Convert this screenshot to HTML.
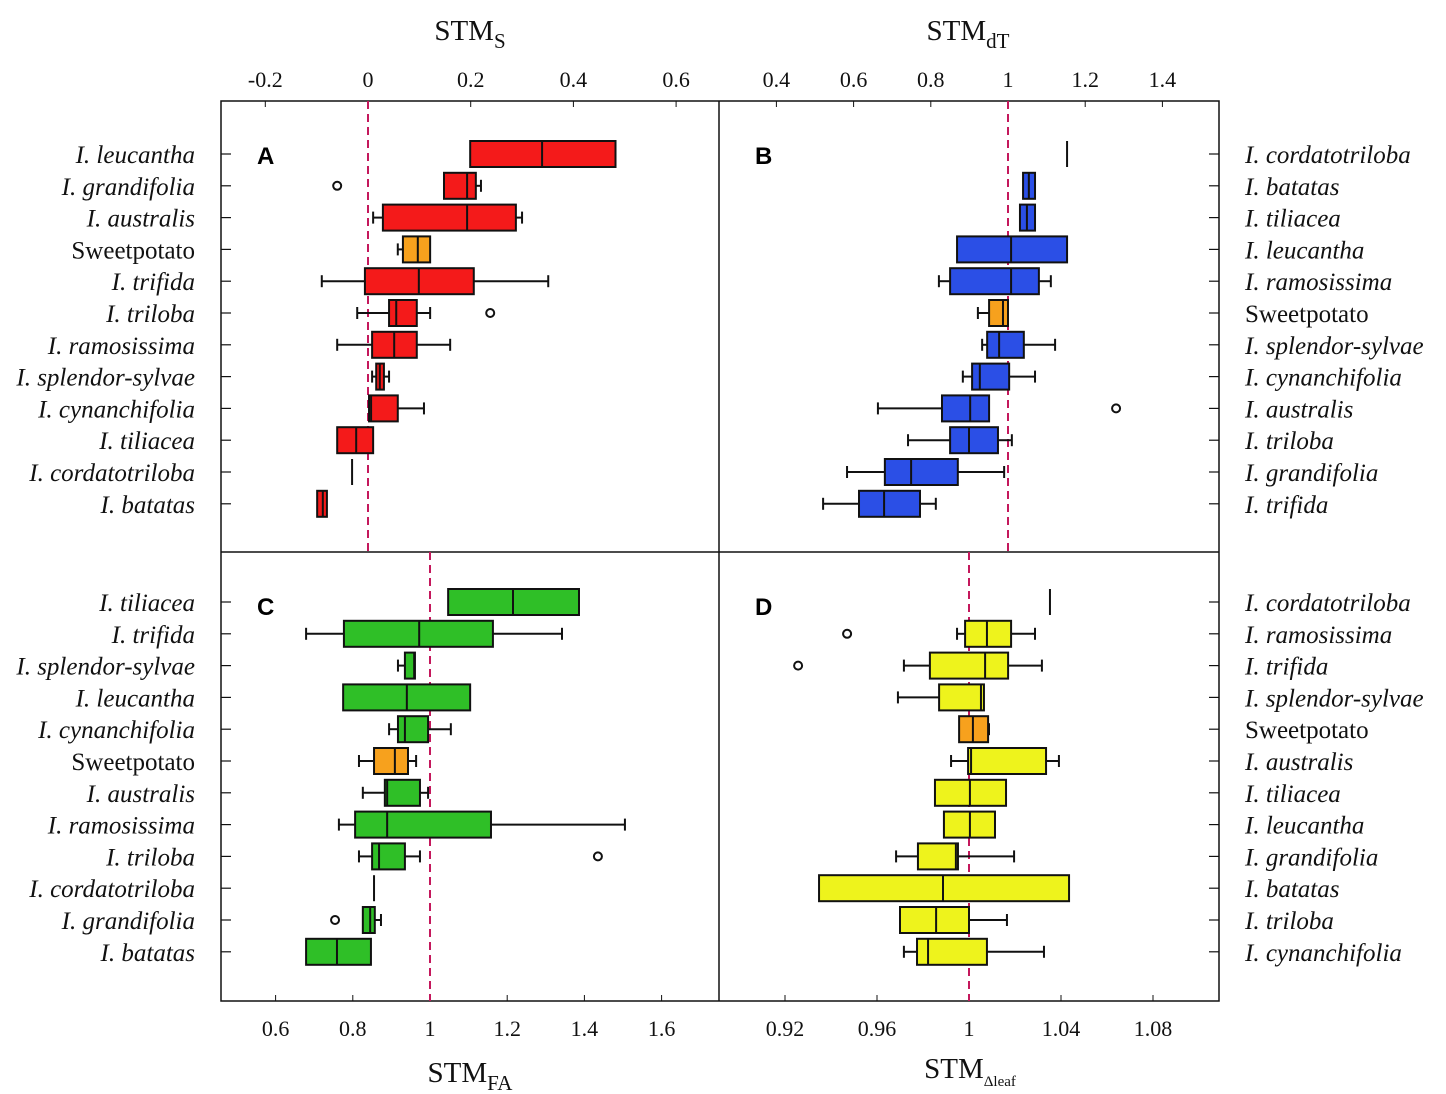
<!DOCTYPE html>
<html><head><meta charset="utf-8"><style>
html,body{margin:0;padding:0;background:#fff;}
svg{display:block;}
.t{font-family:"Liberation Serif",serif;fill:#111;}
</style></head><body>
<svg id="c" width="1446" height="1094" viewBox="0 0 1446 1094" xmlns="http://www.w3.org/2000/svg"></svg>
<script>
// Panel A: STM_S
const catsA = ["I. leucantha","I. grandifolia","I. australis","Sweetpotato","I. trifida","I. triloba","I. ramosissima","I. splendor-sylvae","I. cynanchifolia","I. tiliacea","I. cordatotriloba","I. batatas"];
const q1A = [0.199,0.148,0.029,0.068,-0.006,0.041,0.008,0.016,0.002,-0.060,-0.031,-0.099];
const medA = [0.339,0.193,0.193,0.097,0.099,0.055,0.051,0.023,0.006,-0.023,-0.031,-0.088];
const q3A = [0.482,0.210,0.288,0.121,0.206,0.095,0.095,0.031,0.058,0.010,-0.031,-0.080];
const wloA = [0.199,0.148,0.010,0.058,-0.090,-0.021,-0.060,0.008,0.002,-0.060,-0.031,-0.099];
const whiA = [0.482,0.220,0.300,0.121,0.351,0.121,0.160,0.041,0.109,0.010,-0.031,-0.080];
const outA = [null,-0.060,null,null,null,0.238,null,null,null,null,null,null];
const ticksA = [-0.2,0,0.2,0.4,0.6];
// Panel B: STM_dT
const catsB = ["I. cordatotriloba","I. batatas","I. tiliacea","I. leucantha","I. ramosissima","Sweetpotato","I. splendor-sylvae","I. cynanchifolia","I. australis","I. triloba","I. grandifolia","I. trifida"];
const q1B = [1.153,1.039,1.031,0.868,0.850,0.951,0.946,0.907,0.829,0.850,0.681,0.614];
const medB = [1.153,1.054,1.049,1.008,1.008,0.987,0.977,0.927,0.902,0.899,0.749,0.679];
const q3B = [1.153,1.070,1.070,1.153,1.080,1.000,1.041,1.003,0.951,0.974,0.870,0.772];
const wloB = [1.153,1.039,1.031,0.868,0.821,0.922,0.933,0.883,0.663,0.741,0.583,0.521];
const whiB = [1.153,1.070,1.070,1.153,1.111,1.000,1.122,1.070,0.951,1.010,0.990,0.813];
const outB = [null,null,null,null,null,null,null,null,1.28,null,null,null];
const ticksB = [0.4,0.6,0.8,1,1.2,1.4];
// Panel C: STM_FA
const catsC = ["I. tiliacea","I. trifida","I. splendor-sylvae","I. leucantha","I. cynanchifolia","Sweetpotato","I. australis","I. ramosissima","I. triloba","I. cordatotriloba","I. grandifolia","I. batatas"];
const q1C = [1.047,0.777,0.935,0.775,0.917,0.855,0.883,0.806,0.850,0.855,0.826,0.679];
const medC = [1.215,0.972,0.959,0.940,0.935,0.909,0.889,0.889,0.868,0.855,0.845,0.759];
const q3C = [1.386,1.163,0.961,1.104,0.995,0.943,0.974,1.158,0.935,0.855,0.857,0.847];
const wloC = [1.047,0.679,0.917,0.775,0.894,0.816,0.826,0.764,0.816,0.855,0.826,0.679];
const whiC = [1.386,1.342,0.961,1.104,1.054,0.964,0.995,1.505,0.974,0.855,0.873,0.847];
const outC = [null,null,null,null,null,null,null,null,1.435,null,0.754,null];
const ticksC = [0.6,0.8,1,1.2,1.4,1.6];
// Panel D: STM_Δleaf
const catsD = ["I. cordatotriloba","I. ramosissima","I. trifida","I. splendor-sylvae","Sweetpotato","I. australis","I. tiliacea","I. leucantha","I. grandifolia","I. batatas","I. triloba","I. cynanchifolia"];
const q1D = [1.0352,0.9983,0.9830,0.9870,0.9957,0.9996,0.9852,0.9891,0.9778,0.9348,0.9700,0.9774];
const medD = [1.0352,1.0078,1.0070,1.0052,1.0017,1.0009,1.0004,1.0004,0.9943,0.9887,0.9857,0.9822];
const q3D = [1.0352,1.0183,1.0170,1.0065,1.0083,1.0335,1.0161,1.0113,0.9952,1.0435,1.0000,1.0078];
const wloD = [1.0352,0.9948,0.9717,0.9691,0.9957,0.9922,0.9852,0.9891,0.9683,0.9348,0.9700,0.9717];
const whiD = [1.0352,1.0287,1.0317,1.0065,1.0087,1.0391,1.0161,1.0113,1.0196,1.0435,1.0165,1.0326];
const outD = [null,0.9470,0.9257,null,null,null,null,null,null,null,null,null];
const ticksD = [0.92,0.96,1,1.04,1.08];

const svg=document.getElementById('c');
const NS='http://www.w3.org/2000/svg';
function mk(tag,attrs,parent){const e=document.createElementNS(NS,tag);for(const k in attrs)e.setAttribute(k,attrs[k]);(parent||svg).appendChild(e);return e;}

const L=221,M=719,R=1219,T=101,MY=552,B=1001;
const frame=mk('g',{});


mk('rect',{x:L,y:T,width:R-L,height:B-T,fill:'none',stroke:'#111','stroke-width':1.5},frame);
mk('line',{x1:M,y1:T,x2:M,y2:B,stroke:'#111','stroke-width':1.5},frame);
mk('line',{x1:L,y1:MY,x2:R,y2:MY,stroke:'#111','stroke-width':1.5},frame);

const panels=[
 {id:'a',letter:'A',cats:catsA,q1:q1A,med:medA,q3:q3A,wlo:wloA,whi:whiA,out:outA,ticks:ticksA,x:v=>368+v*513.5,ref:0,x0:L,x1:M,y0:154,top:T,bot:MY,side:'left',col:'#f41a1a',axisY:87,axisTop:true},
 {id:'b',letter:'B',cats:catsB,q1:q1B,med:medB,q3:q3B,wlo:wloB,whi:whiB,out:outB,ticks:ticksB,x:v=>1008+(v-1)*386,ref:1,x0:M,x1:R,y0:154,top:T,bot:MY,side:'right',col:'#2b4fe6',axisY:87,axisTop:true},
 {id:'c',letter:'C',cats:catsC,q1:q1C,med:medC,q3:q3C,wlo:wloC,whi:whiC,out:outC,ticks:ticksC,x:v=>430+(v-1)*386,ref:1,x0:L,x1:M,y0:602,top:MY,bot:B,side:'left',col:'#2fbf27',axisY:1036,axisTop:false},
 {id:'d',letter:'D',cats:catsD,q1:q1D,med:medD,q3:q3D,wlo:wloD,whi:whiD,out:outD,ticks:ticksD,x:v=>969+(v-1)*2300,ref:1,x0:M,x1:R,y0:602,top:MY,bot:B,side:'right',col:'#eef31c',axisY:1036,axisTop:false}
];
const STEP=31.8, BH=26;
panels.forEach(p=>{
 const g=mk('g',{});
 
 
 const lt=mk('text',{x:p.x0+36,y:p.top+63,'font-family':'Liberation Sans, sans-serif','font-weight':'bold','font-size':24,fill:'#000'},g);
 lt.textContent=p.letter;
 
 
 p.ticks.forEach(t=>{
  const tx=p.x(t);
  const tl=mk('text',{x:tx,y:p.axisY,'text-anchor':'middle','font-size':22,class:'t'},g);
  tl.textContent=(t<0?'-':'')+String(Math.abs(t));
  
  
  const ty=p.axisTop?p.top:p.bot;
  mk('line',{x1:tx,y1:ty,x2:tx,y2:p.axisTop?ty+6:ty-6,stroke:'#111','stroke-width':1},g);
 });
 const rl=mk('line',{x1:p.x(p.ref),y1:p.top,x2:p.x(p.ref),y2:p.bot,stroke:'#c4185c','stroke-width':2,'stroke-dasharray':'8,5'},g);
 
 
 p.cats.forEach((c,i)=>{
  const y=p.y0+i*STEP;
  if(p.side==='left'){
   mk('line',{x1:L,y1:y,x2:L+10,y2:y,stroke:'#111','stroke-width':1.2},g);
  } else {
   mk('line',{x1:R-10,y1:y,x2:R,y2:y,stroke:'#111','stroke-width':1.2},g);
  }
  const isSP=c==='Sweetpotato';
  const lab=mk('text',{x:p.side==='left'?195:1245,y:y+9,'text-anchor':p.side==='left'?'end':'start','font-size':25,'font-style':isSP?'normal':'italic',class:'t'},g);
  lab.textContent=c;
  
  
  const bg=mk('g',{},g);
  
  
  const xq1=p.x(p.q1[i]),xq3=p.x(p.q3[i]),xm=p.x(p.med[i]),xl=p.x(p.wlo[i]),xh=p.x(p.whi[i]);
  const st={stroke:'#111','stroke-width':2};
  if(xq3-xq1<1){
   mk('line',Object.assign({x1:xm,y1:y-BH/2,x2:xm,y2:y+BH/2},st),bg);
  } else {
   if(xl<xq1-0.5){mk('line',Object.assign({x1:xl,y1:y,x2:xq1,y2:y},st),bg);mk('line',Object.assign({x1:xl,y1:y-6,x2:xl,y2:y+6},st),bg);}
   if(xh>xq3+0.5){mk('line',Object.assign({x1:xq3,y1:y,x2:xh,y2:y},st),bg);mk('line',Object.assign({x1:xh,y1:y-6,x2:xh,y2:y+6},st),bg);}
   mk('rect',Object.assign({x:xq1,y:y-BH/2,width:xq3-xq1,height:BH,fill:isSP?'#f7a11d':p.col},st),bg);
   mk('line',Object.assign({x1:xm,y1:y-BH/2,x2:xm,y2:y+BH/2},st),bg);
  }
  if(p.out[i]!==null){
   const o=mk('circle',{cx:p.x(p.out[i]),cy:y,r:4,fill:'none',stroke:'#111','stroke-width':2},bg);
   
   
  }
 });
});
function title(x,y,main,sub,name,subSize){
 const t=mk('text',{x:x,y:y,'text-anchor':'middle','font-size':29,class:'t'});
 
 
 const a=mk('tspan',{},t);a.textContent=main;
 const b=mk('tspan',{dy:8,'font-size':subSize},t);b.textContent=sub;
}
title(470,40,'STM','S','top-left-axis-title',21);
title(968,40,'STM','dT','top-right-axis-title',21);
title(470,1082,'STM','FA','bottom-left-axis-title',21);
title(970,1078,'STM','Δleaf','bottom-right-axis-title',15);
</script>
</body></html>
